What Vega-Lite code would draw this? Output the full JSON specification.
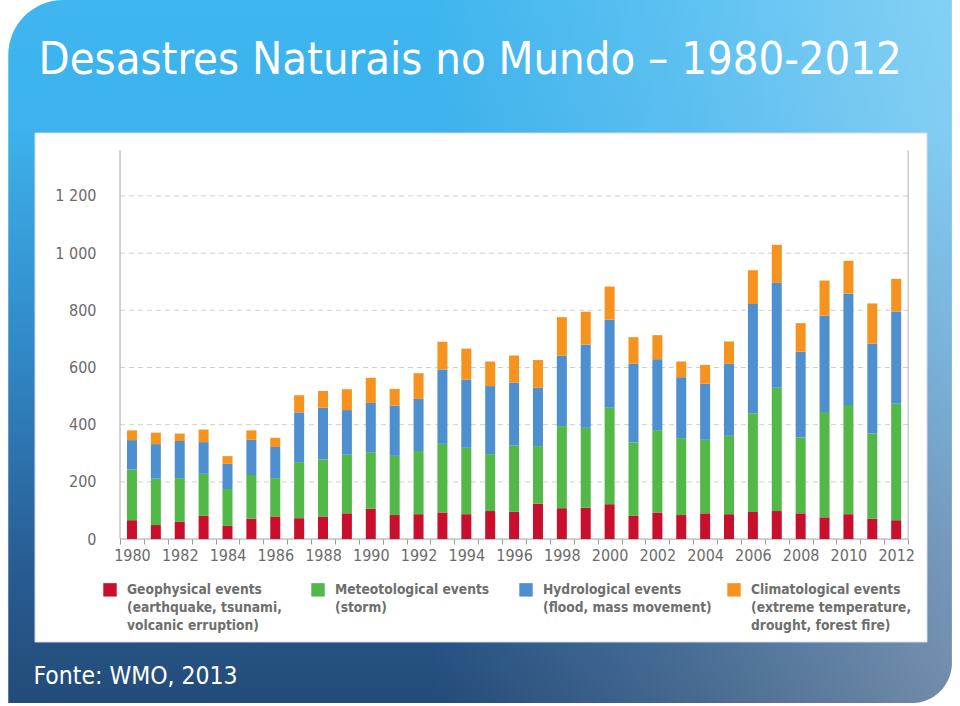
{
  "$schema": "https://vega.github.io/schema/vega-lite/v6.json",
  "width": 902,
  "height": 509,
  "autosize": "none",
  "padding": {"left": 30, "top": 133, "right": 28, "bottom": 64},
  "background": "#ffffff",
  "config": {"view": {"stroke": null}, "style": {"guide-label": {"lineHeight": 18}}},
  "layer": [
    {
      "data": {"values": [{}]},
      "mark": {"type": "rect", "cornerRadiusTopLeft": 55, "cornerRadiusBottomRight": 40,
        "fill": {"gradient": "linear", "x1": 0, "y1": 0, "x2": 0, "y2": 1,
          "stops": [{"offset": 0, "color": "#3fb6ef"}, {"offset": 0.18, "color": "#3db2ec"}, {"offset": 0.5, "color": "#3188c6"}, {"offset": 0.8, "color": "#285d93"}, {"offset": 1, "color": "#234b78"}]}},
      "encoding": {
        "x": {"datum": 1974.82, "type": "quantitative", "scale": {"domain": [1975.94, 2013.29], "nice": false, "zero": false}},
        "x2": {"datum": 2014.33},
        "y": {"datum": 1885, "type": "quantitative", "scale": {"domain": [-360, 1420], "nice": false, "zero": false}},
        "y2": {"datum": -573}
      }
    },
    {
      "data": {"values": [{}]},
      "mark": {"type": "rect", "cornerRadiusTopLeft": 55, "cornerRadiusBottomRight": 40,
        "fill": {"gradient": "linear", "x1": 0, "y1": 0, "x2": 1, "y2": 0,
          "stops": [{"offset": 0, "color": "rgba(255,255,255,0)"}, {"offset": 0.45, "color": "rgba(255,255,255,0)"}, {"offset": 0.72, "color": "rgba(255,255,255,0.16)"}, {"offset": 1, "color": "rgba(255,255,255,0.36)"}]}},
      "encoding": {
        "x": {"datum": 1974.82, "type": "quantitative", "scale": {"domain": [1975.94, 2013.29], "nice": false, "zero": false}},
        "x2": {"datum": 2014.33},
        "y": {"datum": 1885, "type": "quantitative", "scale": {"domain": [-360, 1420], "nice": false, "zero": false}},
        "y2": {"datum": -573}
      }
    },
    {
      "data": {"values": [{}]},
      "mark": {"type": "rect", "fill": "#ffffff", "stroke": "#d3dbe4", "strokeWidth": 1},
      "encoding": {
        "x": {"datum": 1975.94, "type": "quantitative", "scale": {"domain": [1975.94, 2013.29], "nice": false, "zero": false}},
        "x2": {"datum": 2013.29},
        "y": {"datum": 1420, "type": "quantitative", "scale": {"domain": [-360, 1420], "nice": false, "zero": false}},
        "y2": {"datum": -360}
      }
    },
    {
      "data": {"values": [{"g": 200}, {"g": 400}, {"g": 600}, {"g": 800}, {"g": 1000}, {"g": 1200}]},
      "mark": {"type": "rule", "color": "#cfcfcf", "strokeDash": [5, 4], "strokeWidth": 1},
      "encoding": {
        "y": {"field": "g", "type": "quantitative", "scale": {"domain": [-360, 1420], "nice": false, "zero": false}},
        "x": {"datum": 1979.5, "type": "quantitative", "scale": {"domain": [1975.94, 2013.29], "nice": false, "zero": false}},
        "x2": {"datum": 2012.5}
      }
    },
    {
      "data": {"values": [{}]},
      "mark": {"type": "rule", "color": "#a9a9a9", "strokeWidth": 1},
      "encoding": {
        "x": {"datum": 1979.5, "type": "quantitative", "scale": {"domain": [1975.94, 2013.29], "nice": false, "zero": false}},
        "y": {"datum": 0, "type": "quantitative", "scale": {"domain": [-360, 1420], "nice": false, "zero": false}},
        "y2": {"datum": 1360}
      }
    },
    {
      "data": {"values": [{}]},
      "mark": {"type": "rule", "color": "#b5b5b5", "strokeWidth": 1},
      "encoding": {
        "x": {"datum": 2012.5, "type": "quantitative", "scale": {"domain": [1975.94, 2013.29], "nice": false, "zero": false}},
        "y": {"datum": 0, "type": "quantitative", "scale": {"domain": [-360, 1420], "nice": false, "zero": false}},
        "y2": {"datum": 1360}
      }
    },
    {
      "data": {"values": [{}]},
      "mark": {"type": "rule", "color": "#a0a0a0", "strokeWidth": 1},
      "encoding": {
        "x": {"datum": 1979.5, "type": "quantitative", "scale": {"domain": [1975.94, 2013.29], "nice": false, "zero": false}},
        "x2": {"datum": 2012.5},
        "y": {"datum": 0, "type": "quantitative", "scale": {"domain": [-360, 1420], "nice": false, "zero": false}}
      }
    },
    {
      "data": {"values": [
        {"year": 1980, "type": "1 Geo", "n": 66}, {"year": 1980, "type": "2 Met", "n": 177}, {"year": 1980, "type": "3 Hyd", "n": 103}, {"year": 1980, "type": "4 Cli", "n": 34},
        {"year": 1981, "type": "1 Geo", "n": 49}, {"year": 1981, "type": "2 Met", "n": 162}, {"year": 1981, "type": "3 Hyd", "n": 121}, {"year": 1981, "type": "4 Cli", "n": 40},
        {"year": 1982, "type": "1 Geo", "n": 60}, {"year": 1982, "type": "2 Met", "n": 153}, {"year": 1982, "type": "3 Hyd", "n": 130}, {"year": 1982, "type": "4 Cli", "n": 26},
        {"year": 1983, "type": "1 Geo", "n": 81}, {"year": 1983, "type": "2 Met", "n": 147}, {"year": 1983, "type": "3 Hyd", "n": 111}, {"year": 1983, "type": "4 Cli", "n": 44},
        {"year": 1984, "type": "1 Geo", "n": 46}, {"year": 1984, "type": "2 Met", "n": 129}, {"year": 1984, "type": "3 Hyd", "n": 88}, {"year": 1984, "type": "4 Cli", "n": 27},
        {"year": 1985, "type": "1 Geo", "n": 71}, {"year": 1985, "type": "2 Met", "n": 153}, {"year": 1985, "type": "3 Hyd", "n": 123}, {"year": 1985, "type": "4 Cli", "n": 33},
        {"year": 1986, "type": "1 Geo", "n": 79}, {"year": 1986, "type": "2 Met", "n": 134}, {"year": 1986, "type": "3 Hyd", "n": 109}, {"year": 1986, "type": "4 Cli", "n": 32},
        {"year": 1987, "type": "1 Geo", "n": 73}, {"year": 1987, "type": "2 Met", "n": 196}, {"year": 1987, "type": "3 Hyd", "n": 174}, {"year": 1987, "type": "4 Cli", "n": 60},
        {"year": 1988, "type": "1 Geo", "n": 79}, {"year": 1988, "type": "2 Met", "n": 199}, {"year": 1988, "type": "3 Hyd", "n": 181}, {"year": 1988, "type": "4 Cli", "n": 59},
        {"year": 1989, "type": "1 Geo", "n": 90}, {"year": 1989, "type": "2 Met", "n": 205}, {"year": 1989, "type": "3 Hyd", "n": 156}, {"year": 1989, "type": "4 Cli", "n": 73},
        {"year": 1990, "type": "1 Geo", "n": 106}, {"year": 1990, "type": "2 Met", "n": 198}, {"year": 1990, "type": "3 Hyd", "n": 172}, {"year": 1990, "type": "4 Cli", "n": 88},
        {"year": 1991, "type": "1 Geo", "n": 84}, {"year": 1991, "type": "2 Met", "n": 207}, {"year": 1991, "type": "3 Hyd", "n": 176}, {"year": 1991, "type": "4 Cli", "n": 58},
        {"year": 1992, "type": "1 Geo", "n": 87}, {"year": 1992, "type": "2 Met", "n": 221}, {"year": 1992, "type": "3 Hyd", "n": 182}, {"year": 1992, "type": "4 Cli", "n": 90},
        {"year": 1993, "type": "1 Geo", "n": 93}, {"year": 1993, "type": "2 Met", "n": 240}, {"year": 1993, "type": "3 Hyd", "n": 260}, {"year": 1993, "type": "4 Cli", "n": 97},
        {"year": 1994, "type": "1 Geo", "n": 87}, {"year": 1994, "type": "2 Met", "n": 232}, {"year": 1994, "type": "3 Hyd", "n": 239}, {"year": 1994, "type": "4 Cli", "n": 108},
        {"year": 1995, "type": "1 Geo", "n": 98}, {"year": 1995, "type": "2 Met", "n": 199}, {"year": 1995, "type": "3 Hyd", "n": 238}, {"year": 1995, "type": "4 Cli", "n": 86},
        {"year": 1996, "type": "1 Geo", "n": 95}, {"year": 1996, "type": "2 Met", "n": 232}, {"year": 1996, "type": "3 Hyd", "n": 220}, {"year": 1996, "type": "4 Cli", "n": 95},
        {"year": 1997, "type": "1 Geo", "n": 124}, {"year": 1997, "type": "2 Met", "n": 201}, {"year": 1997, "type": "3 Hyd", "n": 204}, {"year": 1997, "type": "4 Cli", "n": 97},
        {"year": 1998, "type": "1 Geo", "n": 108}, {"year": 1998, "type": "2 Met", "n": 287}, {"year": 1998, "type": "3 Hyd", "n": 246}, {"year": 1998, "type": "4 Cli", "n": 135},
        {"year": 1999, "type": "1 Geo", "n": 110}, {"year": 1999, "type": "2 Met", "n": 279}, {"year": 1999, "type": "3 Hyd", "n": 291}, {"year": 1999, "type": "4 Cli", "n": 115},
        {"year": 2000, "type": "1 Geo", "n": 122}, {"year": 2000, "type": "2 Met", "n": 337}, {"year": 2000, "type": "3 Hyd", "n": 308}, {"year": 2000, "type": "4 Cli", "n": 116},
        {"year": 2001, "type": "1 Geo", "n": 81}, {"year": 2001, "type": "2 Met", "n": 257}, {"year": 2001, "type": "3 Hyd", "n": 275}, {"year": 2001, "type": "4 Cli", "n": 93},
        {"year": 2002, "type": "1 Geo", "n": 93}, {"year": 2002, "type": "2 Met", "n": 288}, {"year": 2002, "type": "3 Hyd", "n": 248}, {"year": 2002, "type": "4 Cli", "n": 84},
        {"year": 2003, "type": "1 Geo", "n": 84}, {"year": 2003, "type": "2 Met", "n": 269}, {"year": 2003, "type": "3 Hyd", "n": 213}, {"year": 2003, "type": "4 Cli", "n": 55},
        {"year": 2004, "type": "1 Geo", "n": 90}, {"year": 2004, "type": "2 Met", "n": 257}, {"year": 2004, "type": "3 Hyd", "n": 196}, {"year": 2004, "type": "4 Cli", "n": 66},
        {"year": 2005, "type": "1 Geo", "n": 87}, {"year": 2005, "type": "2 Met", "n": 274}, {"year": 2005, "type": "3 Hyd", "n": 252}, {"year": 2005, "type": "4 Cli", "n": 78},
        {"year": 2006, "type": "1 Geo", "n": 95}, {"year": 2006, "type": "2 Met", "n": 345}, {"year": 2006, "type": "3 Hyd", "n": 382}, {"year": 2006, "type": "4 Cli", "n": 118},
        {"year": 2007, "type": "1 Geo", "n": 98}, {"year": 2007, "type": "2 Met", "n": 431}, {"year": 2007, "type": "3 Hyd", "n": 367}, {"year": 2007, "type": "4 Cli", "n": 133},
        {"year": 2008, "type": "1 Geo", "n": 90}, {"year": 2008, "type": "2 Met", "n": 265}, {"year": 2008, "type": "3 Hyd", "n": 300}, {"year": 2008, "type": "4 Cli", "n": 100},
        {"year": 2009, "type": "1 Geo", "n": 76}, {"year": 2009, "type": "2 Met", "n": 368}, {"year": 2009, "type": "3 Hyd", "n": 337}, {"year": 2009, "type": "4 Cli", "n": 123},
        {"year": 2010, "type": "1 Geo", "n": 87}, {"year": 2010, "type": "2 Met", "n": 382}, {"year": 2010, "type": "3 Hyd", "n": 389}, {"year": 2010, "type": "4 Cli", "n": 115},
        {"year": 2011, "type": "1 Geo", "n": 71}, {"year": 2011, "type": "2 Met", "n": 298}, {"year": 2011, "type": "3 Hyd", "n": 314}, {"year": 2011, "type": "4 Cli", "n": 141},
        {"year": 2012, "type": "1 Geo", "n": 66}, {"year": 2012, "type": "2 Met", "n": 407}, {"year": 2012, "type": "3 Hyd", "n": 323}, {"year": 2012, "type": "4 Cli", "n": 114}
      ]},
      "mark": {"type": "bar", "size": 10, "orient": "vertical"},
      "encoding": {
        "x": {"field": "year", "type": "quantitative", "scale": {"domain": [1975.94, 2013.29], "nice": false, "zero": false},
          "axis": {
            "zindex": 2, "tickCount": 200,
            "values": [1979.5, 1980, 1980.5, 1981.5, 1982, 1982.5, 1983.5, 1984, 1984.5, 1985.5, 1986, 1986.5, 1987.5, 1988, 1988.5, 1989.5, 1990, 1990.5, 1991.5, 1992, 1992.5, 1993.5, 1994, 1994.5, 1995.5, 1996, 1996.5, 1997.5, 1998, 1998.5, 1999.5, 2000, 2000.5, 2001.5, 2002, 2002.5, 2003.5, 2004, 2004.5, 2005.5, 2006, 2006.5, 2007.5, 2008, 2008.5, 2009.5, 2010, 2010.5, 2011.5, 2012, 2012.5],
            "domain": false, "grid": false, "offset": -103,
            "tickSize": 5, "tickColor": "#9a9a9a",
            "tickOpacity": {"condition": {"test": "datum.value % 1 === 0", "value": 0}, "value": 1},
            "labelExpr": "datum.value % 2 === 0 ? toString(datum.value) : ''",
            "labelOverlap": false, "labelFlush": false, "labelPadding": 3,
            "labelFont": "DejaVu Sans Condensed, sans-serif", "labelFontSize": 16, "labelColor": "#6b6b6b",
            "title": "Fonte: WMO, 2013", "titleX": 3, "titleY": 144, "titleAlign": "left", "titleAnchor": "start", "titleBaseline": "alphabetic",
            "titleFont": "DejaVu Sans Condensed, sans-serif", "titleFontSize": 24.5, "titleFontWeight": "normal", "titleColor": "#ffffff"
          }},
        "y": {"field": "n", "type": "quantitative", "stack": "zero", "scale": {"domain": [-360, 1420], "nice": false, "zero": false},
          "axis": {
            "zindex": 2, "tickCount": 50,
            "values": [0, 200, 400, 600, 800, 1000, 1200],
            "domain": false, "ticks": false, "tickSize": 0, "grid": false, "offset": -86, "labelPadding": 20,
            "labelExpr": "replace(format(datum.value, ','), ',', ' ')",
            "labelFont": "DejaVu Sans Condensed, sans-serif", "labelFontSize": 16, "labelColor": "#6b6b6b",
            "title": "Desastres Naturais no Mundo – 1980-2012", "titleAngle": 0, "titleX": -78, "titleY": -60, "titleAlign": "left", "titleAnchor": "start", "titleBaseline": "alphabetic",
            "titleFont": "DejaVu Sans Condensed, sans-serif", "titleFontSize": 45, "titleFontWeight": "normal", "titleColor": "#ffffff"
          }},
        "color": {"field": "type", "type": "nominal",
          "scale": {"domain": ["1 Geo", "2 Met", "3 Hyd", "4 Cli"], "range": ["#c8102e", "#52b848", "#4e8fcf", "#f6921e"]},
          "legend": {
            "orient": "none", "legendX": 73, "legendY": 443, "direction": "horizontal", "columns": 4, "title": null,
            "symbolType": "M-1,0H1V2H-1Z", "symbolSize": 180, "symbolStrokeWidth": 0, "symbolOpacity": 1,
            "labelFont": "DejaVu Sans Condensed, sans-serif", "labelFontWeight": "bold", "labelFontSize": 13.7, "labelColor": "#6e6e6e",
            "labelLimit": 300, "labelOffset": 10, "labelBaseline": "top", "columnPadding": 15, "gridAlign": "all",
            "labelExpr": "datum.value == '1 Geo' ? ['Geophysical events', '(earthquake, tsunami,', 'volcanic erruption)'] : datum.value == '2 Met' ? ['Meteotological events', '(storm)', ' '] : datum.value == '3 Hyd' ? ['Hydrological events', '(flood, mass movement)', ' '] : ['Climatological events', '(extreme temperature,', 'drought, forest fire)']"
          }},
        "order": {"field": "type", "sort": "ascending"}
      }
    }
  ]
}
